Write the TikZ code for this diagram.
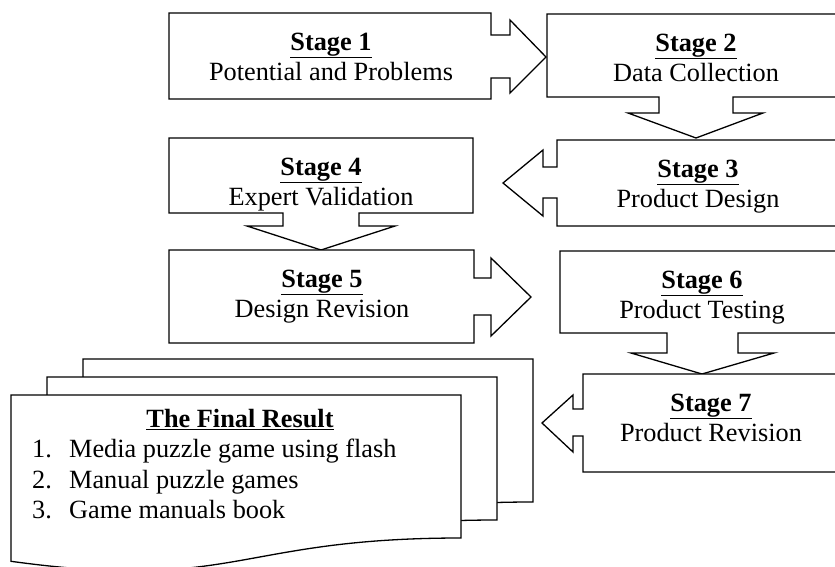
\documentclass[tikz,border=0pt]{standalone}
\usepackage{fontspec}
\setmainfont{Liberation Serif}
\begin{document}
\begin{tikzpicture}[x=1pt,y=-1pt,
  shp/.style={draw=black,line width=1.3pt,fill=white,line join=miter},
  stagetxt/.style={align=center,anchor=north,inner sep=0pt,font=\fontsize{26.3}{30}\selectfont},
  listtxt/.style={align=left,anchor=north west,inner sep=0pt,font=\fontsize{26.3}{30.5}\selectfont}]
\useasboundingbox (0,0) rectangle (835,567);
\begin{scope}
\clip (0,0) rectangle (835,567);
% Stage 1 (right arrow callout)
\draw[shp] (169,13) -- (491,13) -- (491,35) -- (510,35) -- (510,20) -- (546,57) -- (510,93) -- (510,78) -- (491,78) -- (491,99) -- (169,99) -- cycle;
% Stage 2 (down arrow callout)
\draw[shp] (547,14) -- (845,14) -- (845,97) -- (733,97) -- (733,113) -- (763,113) -- (696,138) -- (628,113) -- (659,113) -- (659,97) -- (547,97) -- cycle;
% Stage 3 (left arrow callout)
\draw[shp] (557,140) -- (845,140) -- (845,226) -- (557,226) -- (557,198) -- (543,198) -- (543,216) -- (503,183) -- (543,150) -- (543,167) -- (557,167) -- cycle;
% Stage 4 (down arrow callout)
\draw[shp] (169,138) -- (473,138) -- (473,213) -- (359,213) -- (359,226) -- (395,226) -- (321,250) -- (247,226) -- (283,226) -- (283,213) -- (169,213) -- cycle;
% Stage 5 (right arrow callout)
\draw[shp] (169,250) -- (474,250) -- (474,278) -- (491,278) -- (491,258) -- (531,297) -- (491,336) -- (491,315) -- (474,315) -- (474,343) -- (169,343) -- cycle;
% Stage 6 (down arrow callout)
\draw[shp] (560,251) -- (845,251) -- (845,333) -- (738,333) -- (738,353) -- (774,353) -- (702,374) -- (631,353) -- (667,353) -- (667,333) -- (560,333) -- cycle;
% Stage 7 (left arrow callout)
\draw[shp] (583,374) -- (845,374) -- (845,472) -- (583,472) -- (583,436) -- (573,436) -- (573,452) -- (542,423) -- (573,395) -- (573,409) -- (583,409) -- cycle;
% Multi-document
\draw[shp] (83,359) -- (533,359) -- (533,502) .. controls (308,502) and (308,556.2) .. (83,525.3) -- cycle;
\draw[shp] (47,377) -- (497,377) -- (497,520) .. controls (272,520) and (272,574.2) .. (47,543.3) -- cycle;
\draw[shp] (11,395) -- (461,395) -- (461,538) .. controls (236,538) and (236,592.2) .. (11,561.3) -- cycle;
\end{scope}
% Stage texts
\node[stagetxt] (s1) at (331,29) {\strut\underline{\textbf{Stage 1}}\\Potential and Problems};
\node[stagetxt] (s2) at (696,30) {\strut\underline{\textbf{Stage 2}}\\Data Collection};
\node[stagetxt] (s3) at (698,156) {\strut\underline{\textbf{Stage 3}}\\Product Design};
\node[stagetxt] (s4) at (321,154) {\strut\underline{\textbf{Stage 4}}\\Expert Validation};
\node[stagetxt] (s5) at (322,266) {\strut\underline{\textbf{Stage 5}}\\Design Revision};
\node[stagetxt] (s6) at (702,267) {\strut\underline{\textbf{Stage 6}}\\Product Testing};
\node[stagetxt] (s7) at (711,390) {\strut\underline{\textbf{Stage 7}}\\Product Revision};
% Final result
\node[stagetxt,anchor=base] (frt) at (240,427) {\underline{\textbf{The Final Result}}};
\node[listtxt] (frl) at (32,436) {\strut\makebox[37pt][l]{1.}Media puzzle game using flash\\
\makebox[37pt][l]{2.}Manual puzzle games\\
\makebox[37pt][l]{3.}Game manuals book};
\end{tikzpicture}
\end{document}
